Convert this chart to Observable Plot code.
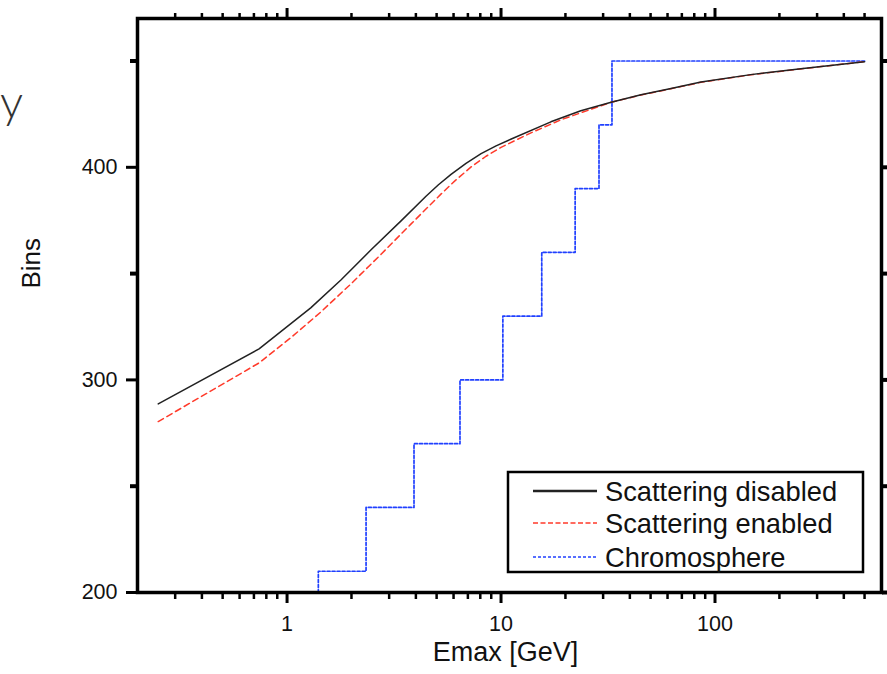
<!DOCTYPE html>
<html>
<head>
<meta charset="utf-8">
<script src="https://cdn.jsdelivr.net/npm/d3@7"></script>
<script src="https://cdn.jsdelivr.net/npm/@observablehq/plot@0.6"></script>
<style>
  html, body { margin: 0; padding: 0; background: #fff; }
  #wrap { position: relative; width: 887px; height: 674px; overflow: hidden; }
  #cut { position: absolute; left: 0px; top: 78px; font-family: "Lato", "Open Sans", sans-serif; font-weight: 300; font-size: 46px; line-height: 1; color: #333; }
</style>
</head>
<body>
<div id="wrap"><div id="cut">y</div></div>
<script>
// ---- data ----
const disabledX = [0.25, 0.74, 1.29, 1.79, 2.47, 3.41, 4.46, 5.10, 5.84, 6.86, 8.07, 9.48, 11.1, 17.1, 23.6, 32.7, 45.1, 62.3, 86, 147, 252, 500];
const disabledY = [288.7, 314.6, 333.9, 347.1, 361.2, 374.8, 386.4, 391.8, 396.7, 401.9, 406.4, 410.1, 413.2, 421.4, 426.6, 430.6, 434.1, 437.1, 440.1, 443.6, 446.4, 449.7];

const enabledX = [0.25, 0.74, 1.04, 1.44, 1.99, 2.75, 3.80, 5.25, 6.16, 7.25, 8.51, 10.0, 13.8, 19.1, 32.7, 45.1, 62.3, 86, 147, 252, 500];
const enabledY = [280.4, 308.0, 319.8, 332.0, 345.2, 359.1, 373.4, 387.5, 394.1, 400.2, 405.2, 409.4, 416.2, 422.4, 430.6, 434.0, 437.0, 440.0, 443.5, 446.3, 449.7];

const chromoX = [1.40, 1.40, 2.34, 3.92, 6.43, 10.2, 15.5, 22.2, 28.7, 33.0, 500];
const chromoY = [200, 210, 240, 270, 300, 330, 360, 390, 420, 450, 450];

const seriesNames = ["Scattering disabled", "Scattering enabled", "Chromosphere"];
const seriesColors = ["#222222", "#ff3a2a", "#2040ff"];

const xMajor = [1, 10, 100];
const xMinor = [0.3, 0.4, 0.5, 0.6, 0.7, 0.8, 0.9, 2, 3, 4, 5, 6, 7, 8, 9, 20, 30, 40, 50, 60, 70, 80, 90, 200, 300, 400, 500];
const yMajor = [200, 300, 400];
const yMinor = [250, 350, 450];

const xTitle = "Emax [GeV]";
const yTitle = "Bins";

// ---- build ----
const disabled = disabledX.map((x, i) => ({x, y: disabledY[i]}));
const enabled = enabledX.map((x, i) => ({x, y: enabledY[i]}));
const chromo = chromoX.map((x, i) => ({x, y: chromoY[i]}));

const blank = () => "";

const chart = Plot.plot({
  width: 887,
  height: 674,
  marginLeft: 137,
  marginRight: 6,
  marginTop: 18,
  marginBottom: 82,
  style: {fontFamily: "'Liberation Sans', Arial, sans-serif", color: "#111", background: "#fff"},
  x: {type: "log", domain: [0.2, 600], label: null},
  y: {domain: [200, 470], label: null},
  marks: [
    // bottom axis
    Plot.axisX({anchor: "bottom", ticks: xMajor, tickSize: 11, tickPadding: 12, tickFormat: d => String(d), fontSize: 21.5, stroke: "#000", strokeWidth: 3, label: null}),
    Plot.axisX({anchor: "bottom", ticks: xMinor, tickSize: 7, tickFormat: blank, stroke: "#000", strokeWidth: 2.5, label: null}),
    // top axis
    Plot.axisX({anchor: "top", ticks: xMajor, tickSize: 11, tickFormat: blank, stroke: "#000", strokeWidth: 3, label: null}),
    Plot.axisX({anchor: "top", ticks: xMinor, tickSize: 6, tickFormat: blank, stroke: "#000", strokeWidth: 2.5, label: null}),
    // left axis
    Plot.axisY({anchor: "left", ticks: yMajor, tickSize: 11, tickPadding: 9, tickFormat: d => String(d), fontSize: 21.5, stroke: "#000", strokeWidth: 3, label: null}),
    Plot.axisY({anchor: "left", ticks: yMinor, tickSize: 7, tickFormat: blank, stroke: "#000", strokeWidth: 4, label: null}),
    // right axis
    Plot.axisY({anchor: "right", ticks: yMajor.concat(yMinor), tickSize: 8, tickFormat: blank, stroke: "#000", strokeWidth: 4, label: null}),
    // series
    Plot.line(chromo, {x: "x", y: "y", curve: "step-after", stroke: seriesColors[2], strokeWidth: 1.7, strokeDasharray: "3,2"}),
    Plot.line(enabled, {x: "x", y: "y", stroke: seriesColors[1], strokeWidth: 1.5, strokeDasharray: "6,4"}),
    Plot.line(disabled, {x: "x", y: "y", stroke: seriesColors[0], strokeWidth: 1.5}),
    Plot.frame({stroke: "#000", strokeWidth: 3.5}),
    // titles
    Plot.text([xTitle], {frameAnchor: "bottom", dy: 68, dx: -4, fontSize: 27, fill: "#111"}),
    Plot.text([yTitle], {frameAnchor: "left", dx: -106, dy: -17, rotate: -90, fontSize: 26, fill: "#111"})
  ]
});

document.getElementById("wrap").appendChild(chart);

// ---- legend (inside plot area) ----
const svg = d3.select(chart);
const lg = svg.append("g").attr("font-family", "'Liberation Sans', Arial, sans-serif").attr("text-anchor", "start");
lg.append("rect").attr("x", 508).attr("y", 472).attr("width", 355).attr("height", 100)
  .attr("fill", "#fff").attr("stroke", "#000").attr("stroke-width", 2.5);
const rowY = [491, 523, 557];
const dashes = [null, "5,2.5", "3,2"];
const widths = [2.6, 1.4, 1.4];
seriesNames.forEach((name, i) => {
  const l = lg.append("line").attr("x1", 533).attr("x2", 597).attr("y1", rowY[i]).attr("y2", rowY[i])
    .attr("stroke", seriesColors[i]).attr("stroke-width", widths[i]);
  if (dashes[i]) l.attr("stroke-dasharray", dashes[i]);
  lg.append("text").attr("x", 605).attr("y", rowY[i]).attr("dy", "0.36em").attr("text-anchor", "start")
    .attr("font-size", 27.3).attr("fill", "#111").text(name);
});
</script>
</body>
</html>
